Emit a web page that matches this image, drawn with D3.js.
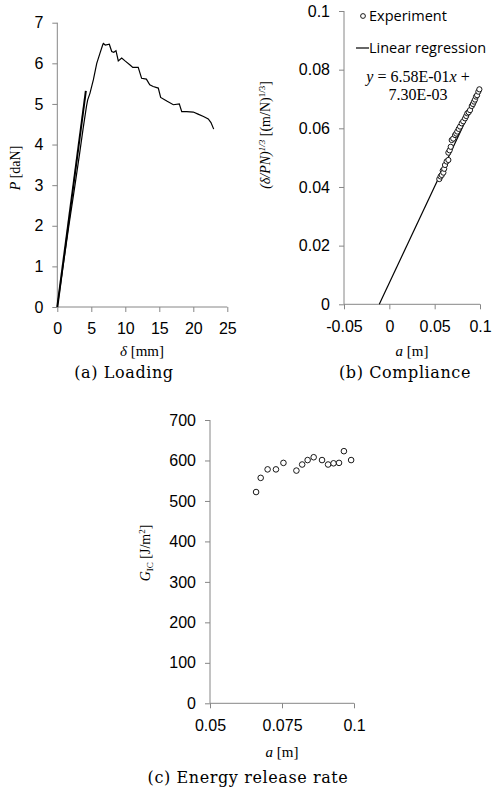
<!DOCTYPE html>
<html><head><meta charset="utf-8">
<script src="https://cdn.jsdelivr.net/npm/d3@7"></script>
<style>
body{margin:0;background:#fff;}
svg{display:block;}
.tick text{font-family:"Liberation Sans",Arial,sans-serif;font-size:16px;fill:#000;}
.serif{font-family:"Liberation Serif","Times New Roman",serif;}
.cap{font-family:"DejaVu Serif",serif;font-size:16px;letter-spacing:0.6px;}
</style>
</head><body>
<script>
// ---- Panel (a): Loading ----
const loadX = [0,0.8,1.7,2.6,3.3,3.8,4.3,4.47,4.8,5.3,5.8,6.28,6.67,6.77,7.06,7.65,8.0,8.3,8.63,8.97,9.47,9.96,10.7,11.1,11.9,12.4,13.1,13.6,14.1,14.85,15.2,16.1,17.06,17.94,18.3,19.03,20.0,20.7,21.5,22.2,22.6,23.0];
const loadP = [0,0.95,2.0,3.0,3.8,4.4,4.95,5.1,5.26,5.59,6.0,6.25,6.45,6.49,6.45,6.47,6.29,6.27,6.31,6.06,6.13,6.06,5.96,5.9,5.9,5.63,5.61,5.47,5.43,5.39,5.16,5.07,4.98,5.0,4.81,4.81,4.8,4.75,4.69,4.63,4.54,4.38];
const fitAX = [0,4.2];
const fitAP = [0,5.32];
const aXTicks = [0,5,10,15,20,25];
const aYTicks = [0,1,2,3,4,5,6,7];

// ---- Panel (b): Compliance ----
const compA = [0.0551,0.0565,0.0578,0.0589,0.0596,0.0605,0.0614,0.0632,0.0651,0.0651,0.0665,0.0677,0.0688,0.0705,0.0725,0.0738,0.075,0.0765,0.078,0.0798,0.0815,0.0835,0.0848,0.086,0.0875,0.089,0.0909,0.0922,0.0934,0.0945,0.0956,0.0968,0.0982,0.0993];
const compC = [0.0427,0.0436,0.0441,0.0456,0.0449,0.0462,0.0475,0.0487,0.0492,0.0517,0.0525,0.0537,0.056,0.0565,0.0577,0.0582,0.0589,0.0598,0.0606,0.0617,0.0624,0.0634,0.0642,0.0651,0.0655,0.0662,0.0676,0.0683,0.0691,0.0698,0.0708,0.0713,0.0725,0.0733];
const regSlope = [0.658];
const regIntercept = [0.0073];
const regRange = [-0.0111, 0.1];
const bXTicks = [-0.05,0,0.05,0.1];
const bYTicks = [0,0.02,0.04,0.06,0.08,0.1];

// ---- Panel (c): Energy release rate ----
const gA = [0.066,0.0676,0.0700,0.0729,0.0755,0.0800,0.0820,0.0839,0.0860,0.0889,0.0910,0.0929,0.0948,0.0965,0.0990];
const gG = [522,557,578,578,594,575,590,601,608,601,590,593,594,623,601];
const cXTicks = [0.05,0.075,0.1];
const cYTicks = [0,100,200,300,400,500,600,700];

const W=493,H=800;
const svg=d3.select("body").append("svg").attr("width",W).attr("height",H);
const AX="#868686";

function axes(g,x,y,xt,yt,xfmt,yfmt){
  const xa=g.append("g").attr("transform",`translate(0,${y.range()[0]})`)
    .call(d3.axisBottom(x).tickValues(xt).tickSize(5).tickPadding(11).tickFormat(xfmt));
  const ya=g.append("g").attr("transform",`translate(${x.range()[0]},0)`)
    .call(d3.axisLeft(y).tickValues(yt).tickSize(5).tickPadding(9).tickFormat(yfmt));
  [xa,ya].forEach(a=>{a.selectAll("path,line").attr("stroke",AX);});
  xa.select(".domain").attr("d",`M${x.range()[0]},0H${x.range()[1]}`);
  ya.select(".domain").attr("d",`M0,${y.range()[0]}V${y.range()[1]}`);
  return [xa,ya];
}
const num = d=>String(+d.toFixed(4));

// Panel a
{
  const g=svg.append("g");
  const x=d3.scaleLinear().domain([0,25]).range([57.3,227.3]);
  const y=d3.scaleLinear().domain([0,7]).range([307,22.7]);
  axes(g,x,y,aXTicks,aYTicks,num,num);
  const line=d3.line().x(d=>x(d[0])).y(d=>y(d[1]));
  g.append("path").attr("d",line(loadX.map((v,i)=>[v,loadP[i]]))).attr("fill","none").attr("stroke","#000").attr("stroke-width",1.2);
  g.append("path").attr("d",line(fitAX.map((v,i)=>[v,fitAP[i]]))).attr("fill","none").attr("stroke","#000").attr("stroke-width",2);
  const xl=g.append("text").attr("class","serif").attr("x",142).attr("y",356).attr("text-anchor","middle").attr("font-size",15);
  xl.append("tspan").attr("font-style","italic").text("δ");
  xl.append("tspan").text(" [mm]");
  const yl=g.append("text").attr("class","serif").attr("transform","translate(20,168) rotate(-90)").attr("text-anchor","middle").attr("font-size",14);
  yl.append("tspan").attr("font-style","italic").text("P");
  yl.append("tspan").text(" [daN]");
  g.append("text").attr("class","cap").attr("x",124).attr("y",378).attr("text-anchor","middle").text("(a)  Loading");
}
// Panel b
{
  const g=svg.append("g");
  const x=d3.scaleLinear().domain([-0.05,0.1]).range([344,480]);
  const y=d3.scaleLinear().domain([0,0.1]).range([304.3,11]);
  axes(g,x,y,bXTicks,bYTicks,num,num);
  const line=d3.line().x(d=>x(d[0])).y(d=>y(d[1]));
  const s=regSlope[0], b=regIntercept[0];
  g.append("path").attr("d",line(regRange.map(v=>[v,s*v+b]))).attr("fill","none").attr("stroke","#000").attr("stroke-width",1.2);
  g.selectAll("circle.p").data(compA.map((v,i)=>[v,compC[i]])).join("circle")
    .attr("cx",d=>x(d[0])).attr("cy",d=>y(d[1])).attr("r",2.6)
    .attr("fill","#fff").attr("stroke","#000").attr("stroke-width",0.9);
  // legend
  g.append("circle").attr("cx",363).attr("cy",16).attr("r",2.4).attr("fill","#fff").attr("stroke","#000").attr("stroke-width",0.9);
  g.append("text").attr("x",369).attr("y",21).attr("font-family","Open Sans").attr("font-size",14.5).text("Experiment");
  g.append("line").attr("x1",356).attr("x2",369).attr("y1",48).attr("y2",48).attr("stroke","#000").attr("stroke-width",1.2);
  g.append("text").attr("x",369).attr("y",53).attr("font-family","Open Sans").attr("font-size",14.5).text("Linear regression");
  const eq=g.append("text").attr("class","serif").attr("x",418).attr("y",82).attr("text-anchor","middle").attr("font-size",16);
  eq.append("tspan").attr("font-style","italic").text("y");
  eq.append("tspan").text(" = 6.58E-01");
  eq.append("tspan").attr("font-style","italic").text("x");
  eq.append("tspan").text(" +");
  g.append("text").attr("class","serif").attr("x",418).attr("y",100).attr("text-anchor","middle").attr("font-size",16).text("7.30E-03");
  const xl=g.append("text").attr("class","serif").attr("x",412).attr("y",356).attr("text-anchor","middle").attr("font-size",15);
  xl.append("tspan").attr("font-style","italic").text("a");
  xl.append("tspan").text(" [m]");
  const yl=g.append("text").attr("class","serif").attr("transform","translate(270,135) rotate(-90)").attr("text-anchor","middle").attr("font-size",14);
  yl.append("tspan").attr("font-style","italic").text("(δ/PN)");
  yl.append("tspan").attr("font-style","italic").attr("font-size",9).attr("dy",-5).text("1/3");
  yl.append("tspan").attr("dy",5).text(" [(m/N)");
  yl.append("tspan").attr("font-size",9).attr("dy",-5).text("1/3");
  yl.append("tspan").attr("dy",5).text("]");
  g.append("text").attr("class","cap").attr("x",405).attr("y",378).attr("text-anchor","middle").text("(b)  Compliance");
}
// Panel c
{
  const g=svg.append("g");
  const x=d3.scaleLinear().domain([0.05,0.1]).range([210,354]);
  const y=d3.scaleLinear().domain([0,700]).range([703.3,420]);
  axes(g,x,y,cXTicks,cYTicks,num,num);
  g.selectAll("circle.p").data(gA.map((v,i)=>[v,gG[i]])).join("circle")
    .attr("cx",d=>x(d[0])).attr("cy",d=>y(d[1])).attr("r",2.8)
    .attr("fill","#fff").attr("stroke","#000").attr("stroke-width",0.9);
  const xl=g.append("text").attr("class","serif").attr("x",282).attr("y",757).attr("text-anchor","middle").attr("font-size",15);
  xl.append("tspan").attr("font-style","italic").text("a");
  xl.append("tspan").text(" [m]");
  const yl=g.append("text").attr("class","serif").attr("transform","translate(150,553) rotate(-90)").attr("text-anchor","middle").attr("font-size",14);
  yl.append("tspan").attr("font-style","italic").text("G");
  yl.append("tspan").attr("font-size",9).attr("dy",3).text("IC");
  yl.append("tspan").attr("dy",-3).text(" [J/m");
  yl.append("tspan").attr("font-size",9).attr("dy",-5).text("2");
  yl.append("tspan").attr("dy",5).text("]");
  g.append("text").attr("class","cap").attr("x",248).attr("y",783).attr("text-anchor","middle").text("(c)  Energy release rate");
}
</script>
</body></html>
